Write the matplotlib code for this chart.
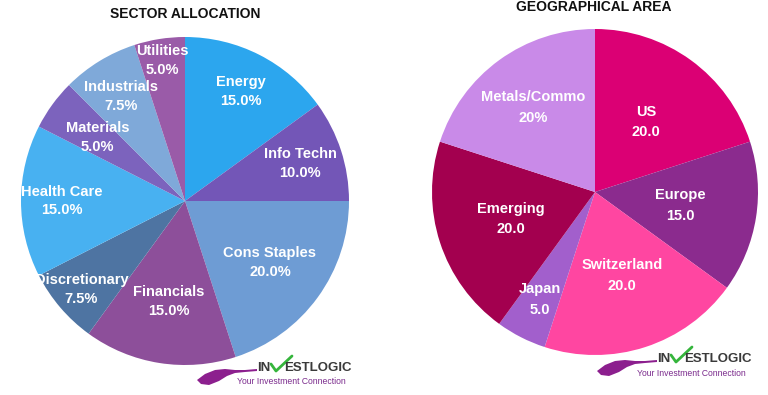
import numpy as np
import matplotlib.pyplot as plt
from matplotlib.patches import Polygon

plt.rcParams["font.family"] = ["Liberation Sans", "DejaVu Sans"]

# sector allocation (clockwise from 12 o'clock)
sector_names = ["Energy", "Info Techn", "Cons Staples", "Financials", "Discretionary",
                "Health Care", "Materials", "Industrials", "Utilities"]
sector_values = [15.0, 10.0, 20.0, 15.0, 7.5, 15.0, 5.0, 7.5, 5.0]
sector_colors = ["#2ca6ee", "#7356b7", "#6e9cd4", "#8d4f9a", "#4e74a2",
                 "#48b1f1", "#7c63bd", "#7fa9d9", "#9a5ba8"]
# label placement (radius fraction)
sector_label_r = [0.75, 0.74, 0.64, 0.62, 0.83, 0.75, 0.66, 0.75, 0.87]

# geographical area
geo_names = ["US", "Europe", "Switzerland", "Japan", "Emerging", "Metals/Commo"]
geo_values = [20, 15, 20, 5, 20, 20]
geo_value_text = ["20.0", "15.0", "20.0", "5.0", "20.0", "20%"]
geo_colors = ["#db0074", "#8b2b8e", "#ff46a1", "#a25fcc", "#a3004f", "#c98ae8"]
geo_label_r = [0.53, 0.53, 0.54, 0.74, 0.54, 0.64]

fig = plt.figure(figsize=(7.68, 3.95), dpi=100)
W, H = 768, 395


def pie_axes(cx, cy, r):
    ax = fig.add_axes([(cx - r) / W, (H - cy - r) / H, 2 * r / W, 2 * r / H])
    return ax


def draw_pie(ax, values, colors, names, value_text, label_r, spacing):
    wedges, _ = ax.pie(values, colors=colors, startangle=90, counterclock=False,
                       radius=1, wedgeprops=dict(linewidth=0))
    ax.set_xlim(-1, 1)
    ax.set_ylim(-1, 1)
    ax.set_aspect("equal")
    ax.axis("off")
    for w, name, vt, lr in zip(wedges, names, value_text, label_r):
        mid = np.deg2rad((w.theta1 + w.theta2) / 2)
        ax.text(lr * np.cos(mid), lr * np.sin(mid), f"{name}\n{vt}",
                ha="center", va="center", color="white", fontsize=10.5,
                fontweight="bold", linespacing=spacing)


ax1 = pie_axes(185, 201, 164)
draw_pie(ax1, sector_values, sector_colors, sector_names,
         [f"{v:.1f}%" for v in sector_values], sector_label_r, 1.45)

ax2 = pie_axes(595, 192, 163)
draw_pie(ax2, geo_values, geo_colors, geo_names, geo_value_text,
         geo_label_r, 1.6)

# overlay in pixel coordinates for titles and logos
ov = fig.add_axes([0, 0, 1, 1])
ov.set_xlim(0, W)
ov.set_ylim(H, 0)
ov.axis("off")
ov.patch.set_alpha(0)

ov.text(185, 14, "SECTOR ALLOCATION", ha="center", va="center",
        fontsize=10, fontweight="bold", color="#111111")
ov.text(594, 7, "GEOGRAPHICAL AREA", ha="center", va="center",
        fontsize=10, fontweight="bold", color="#111111")


def draw_logo(x0, y0):
    upper = [(0, 10), (8, 4), (18, 0), (28, -1), (38, 0), (48, 0), (60, -1)]
    lower = [(60, 1), (48, 2), (38, 3), (30, 6), (22, 11), (12, 15), (4, 14)]
    pts = [(x0 + x, y0 + y) for x, y in upper + lower]
    ov.add_patch(Polygon(pts, closed=True, color="#8c1f8e", lw=0))
    ov.text(x0 + 60, y0 - 2, "IN", ha="left", va="center", fontsize=9.5,
            fontweight="bold", color="#3a3a3a")
    ov.plot([x0 + 74, x0 + 79, x0 + 95], [y0 - 6, y0 + 1, y0 - 14],
            color="#35b53c", lw=2.0, solid_capstyle="round")
    ov.text(x0 + 87, y0 - 2, "ESTLOGIC", ha="left", va="center", fontsize=9.5,
            fontweight="bold", color="#3a3a3a")
    ov.text(x0 + 40, y0 + 12, "Your Investment Connection", ha="left",
            va="center", fontsize=6.2, color="#7a2a8c")


draw_logo(197, 370)
draw_logo(597, 361)

fig.savefig("out.png", dpi=100)
